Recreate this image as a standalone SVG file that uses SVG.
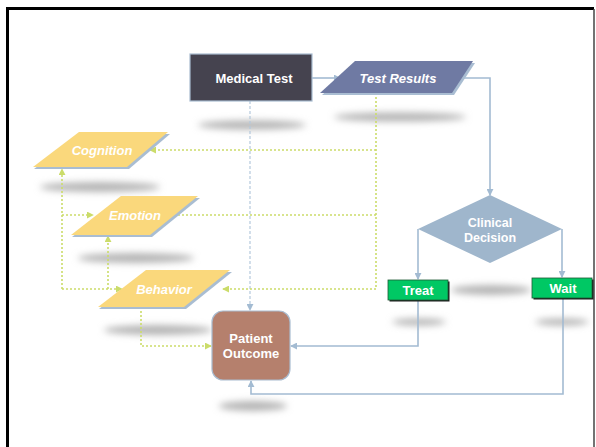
<svg xmlns="http://www.w3.org/2000/svg" width="596" height="447" viewBox="0 0 596 447">
  <style>
    .lbl { font-family: "Liberation Sans", Arial, sans-serif; font-size: 13px; font-weight: bold; fill: #ffffff; text-anchor: middle; dominant-baseline: central; }
    .small { font-size: 12.5px; }
    .ital { font-style: italic; }
    .flow { fill: none; stroke: #a3bbd2; stroke-width: 1.6; }
    .dash { fill: none; stroke: #b4c8dc; stroke-width: 1.2; stroke-dasharray: 3 2; }
    .dot { fill: none; stroke: #cbdc6a; stroke-width: 1.6; stroke-dasharray: 2 2; }
    .shadow { fill: #b4b4b4; filter: url(#blur); }
    .para { fill: #fad87c; }
    .para-edge { fill: #a9bdd2; }
  </style>
  <defs>
    <filter id="blur" x="-30%" y="-200%" width="160%" height="500%">
      <feGaussianBlur stdDeviation="3.5"/>
    </filter>
    <marker id="ah" viewBox="0 0 8 8" refX="7" refY="4" markerWidth="7" markerHeight="7" orient="auto" markerUnits="userSpaceOnUse">
      <path d="M0,0 L8,4 L0,8 z" fill="#a3bbd2"/>
    </marker>
    <marker id="ahy" viewBox="0 0 8 8" refX="7" refY="4" markerWidth="7" markerHeight="7" orient="auto" markerUnits="userSpaceOnUse">
      <path d="M0,0 L8,4 L0,8 z" fill="#cbdc6a"/>
    </marker>
  </defs>

  <rect x="0" y="0" width="596" height="447" fill="#ffffff"/>
  <!-- page frame -->
  <path d="M7.5,447 V8.5 H594" fill="none" stroke="#000" stroke-width="3"/>
  <line x1="594" y1="9" x2="594" y2="447" stroke="#444" stroke-width="1.5"/>

  <!-- soft drop shadows -->
  <g id="shadows">
    <ellipse class="shadow" cx="252" cy="125" rx="54" ry="4.5"/>
    <ellipse class="shadow" cx="400" cy="117" rx="66" ry="4.5"/>
    <ellipse class="shadow" cx="100" cy="187" rx="60" ry="5"/>
    <ellipse class="shadow" cx="136" cy="258" rx="58" ry="5"/>
    <ellipse class="shadow" cx="158" cy="330" rx="54" ry="5"/>
    <ellipse class="shadow" cx="491" cy="290" rx="40" ry="5"/>
    <ellipse class="shadow" cx="419" cy="322" rx="27" ry="3.5"/>
    <ellipse class="shadow" cx="562" cy="322" rx="27" ry="3.5"/>
    <ellipse class="shadow" cx="253" cy="406" rx="34" ry="5"/>
  </g>

  <!-- connectors -->
  <g id="connectors">
    <path class="flow" d="M312,78 H340" marker-end="url(#ah)"/>
    <path class="flow" d="M463,78 H490 V195" marker-end="url(#ah)"/>
    <path class="flow" d="M418,229 V279" marker-end="url(#ah)"/>
    <path class="flow" d="M562,229 V277" marker-end="url(#ah)"/>
    <path class="flow" d="M418,301 V346 H291" marker-end="url(#ah)"/>
    <path class="flow" d="M563,299 V394 H251 V381" marker-end="url(#ah)"/>
    <path class="dash" d="M250,101 V310" marker-end="url(#ah)"/>
    <path class="dot" d="M376,93 V289 H223" marker-end="url(#ahy)"/>
    <path class="dot" d="M376,150 H150" marker-end="url(#ahy)"/>
    <path class="dot" d="M376,215 H163" marker-end="url(#ahy)"/>
    <path class="dot" d="M62,289 V169" marker-end="url(#ahy)"/>
    <path class="dot" d="M62,215 H93" marker-end="url(#ahy)"/>
    <path class="dot" d="M62,289 H122" marker-end="url(#ahy)"/>
    <path class="dot" d="M108,289 V236" marker-end="url(#ahy)"/>
    <path class="dot" d="M141,307 V346 H211" marker-end="url(#ahy)"/>
  </g>

  <g id="medical-test">
    <rect x="190" y="54" width="122" height="47" fill="#45434f" stroke="#a9bcd0" stroke-width="1.2"/>
    <text class="lbl" x="254" y="78">Medical Test</text>
  </g>

  <g id="test-results">
    <polygon points="357,63 475,63 454,95 322,95" fill="#a9bdd2"/>
    <polygon points="355,61 473,61 452,93 320,93" fill="#6f7aa3"/>
    <text class="lbl ital" x="398" y="78">Test Results</text>
  </g>

  <g id="cognition">
    <polygon class="para-edge" points="81,134 170,134 129,169 34,169"/>
    <polygon class="para" points="79,132 168,132 127,167 33,167"/>
    <text class="lbl ital" x="102" y="150">Cognition</text>
  </g>

  <g id="emotion">
    <polygon class="para-edge" points="123,198 200,198 152,237 72,237"/>
    <polygon class="para" points="121,196 198,196 150,235 71,235"/>
    <text class="lbl ital" x="135" y="215">Emotion</text>
  </g>

  <g id="behavior">
    <polygon class="para-edge" points="148,272 232,272 186,309 99,309"/>
    <polygon class="para" points="146,270 230,270 184,307 98,307"/>
    <text class="lbl ital" x="164" y="289">Behavior</text>
  </g>

  <g id="patient-outcome">
    <rect x="212" y="311" width="78" height="69" rx="11" fill="#b5806d" stroke="#a9bcd0" stroke-width="1.2"/>
    <text class="lbl" x="251" y="338.5">Patient</text>
    <text class="lbl" x="251" y="353.5">Outcome</text>
  </g>

  <g id="clinical-decision">
    <polygon points="490,195 562,229 490,263 418,229" fill="#9fb6cc"/>
    <text class="lbl small" x="490" y="223">Clinical</text>
    <text class="lbl small" x="490" y="238">Decision</text>
  </g>

  <g id="treat">
    <rect x="389.5" y="281.5" width="60" height="20" fill="#1a1a1a"/>
    <rect x="388" y="280" width="60" height="20" fill="#00c864" stroke="#1e5a36" stroke-width="0.8"/>
    <text class="lbl" x="418" y="290.5">Treat</text>
  </g>

  <g id="wait">
    <rect x="533.5" y="279.5" width="60" height="20" fill="#1a1a1a"/>
    <rect x="532" y="278" width="60" height="20" fill="#00c864" stroke="#1e5a36" stroke-width="0.8"/>
    <text class="lbl" x="563" y="288">Wait</text>
  </g>
</svg>
